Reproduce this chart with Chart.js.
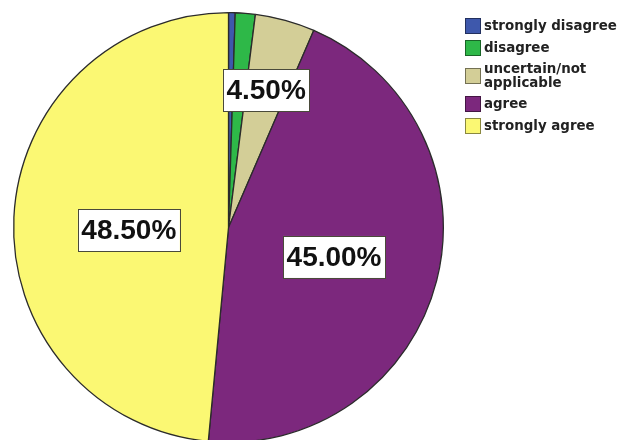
<!DOCTYPE html>
<html>
<head>
<meta charset="utf-8">
<script src="https://cdn.jsdelivr.net/npm/chart.js@4.4.1/dist/chart.umd.min.js"></script>
<style>
  html, body { margin: 0; padding: 0; width: 621px; height: 440px; overflow: hidden; background: #fff; }
  #wrap { position: absolute; left: 0; top: 0; width: 621px; height: 444px; }
  #legend { position: absolute; left: 465px; top: 18px; font: bold 13.4px "DejaVu Sans", sans-serif; color: #222; }
  .item { display: flex; align-items: center; margin-bottom: 6px; line-height: 14px; }
  .swatch { width: 14px; height: 14px; border: 1px solid rgba(0,0,0,0.45); margin-right: 3px; flex: none; }
</style>
</head>
<body>
<div id="wrap"><canvas id="pieChart"></canvas></div>
<div id="legend"></div>
<script>
// answer categories and their share in percent
const categories = ["strongly disagree", "disagree", "uncertain/not applicable", "agree", "strongly agree"];
const legendText = ["strongly disagree", "disagree", "uncertain/not<br>applicable", "agree", "strongly agree"];
const shares = [0.5, 1.5, 4.5, 45.0, 48.5];
const colors = ["#3E58AC", "#2EB848", "#D3CE97", "#7C287D", "#FBF873"];

// where the boxed labels sit inside a slice (fraction of radius, angle nudge in degrees)
const labelRadius = [0, 0, 0.663, 0.51, 0.464];
const labelNudge = [0, 0, 0, 1.2, -4.4];

// legend
const legendEl = document.getElementById("legend");
legendText.forEach((t, i) => {
  const row = document.createElement("div");
  row.className = "item";
  row.innerHTML = '<span class="swatch" style="background:' + colors[i] + '"></span><span>' + t + "</span>";
  legendEl.appendChild(row);
});

const sliceLabels = {
  id: "sliceLabels",
  afterDatasetsDraw(chart) {
    const ctx = chart.ctx;
    const meta = chart.getDatasetMeta(0);
    meta.data.forEach((arc, i) => {
      const f = labelRadius[i];
      if (!f) return;
      const mid = (arc.startAngle + arc.endAngle) / 2 + labelNudge[i] * Math.PI / 180;
      const x = arc.x + Math.cos(mid) * arc.outerRadius * f;
      const y = arc.y + Math.sin(mid) * arc.outerRadius * f;
      const text = shares[i].toFixed(2) + "%";
      ctx.save();
      ctx.font = 'bold 28px "Liberation Sans", Arial, sans-serif';
      const w = ctx.measureText(text).width + 7;
      const h = 42;
      ctx.fillStyle = "#fff";
      ctx.fillRect(x - w / 2, y - h / 2, w, h);
      ctx.strokeStyle = "#4a4a3a";
      ctx.lineWidth = 1;
      ctx.strokeRect(Math.round(x - w / 2) + 0.5, Math.round(y - h / 2) + 0.5, Math.round(w), h);
      ctx.fillStyle = "#111";
      ctx.textAlign = "center";
      ctx.textBaseline = "middle";
      ctx.fillText(text, x, y + 1);
      ctx.restore();
    });
  }
};

var ctx = document.getElementById("pieChart").getContext("2d");
var pieChart = new Chart(ctx, {
  type: "pie",
  data: {
    labels: categories,
    datasets: [
      {
        data: shares,
        backgroundColor: colors,
        borderColor: "#2b2b2b",
        borderWidth: 1.3,
        hoverOffset: 0,
      },
    ],
  },
  options: {
    responsive: true,
    maintainAspectRatio: false,
    animation: false,
    events: [],
    layout: { padding: { left: 13, top: 12, right: 177, bottom: 1 } },
    plugins: {
      legend: { display: false },
      tooltip: { enabled: false },
      title: { display: false },
    },
  },
  plugins: [sliceLabels],
});
</script>
</body>
</html>
